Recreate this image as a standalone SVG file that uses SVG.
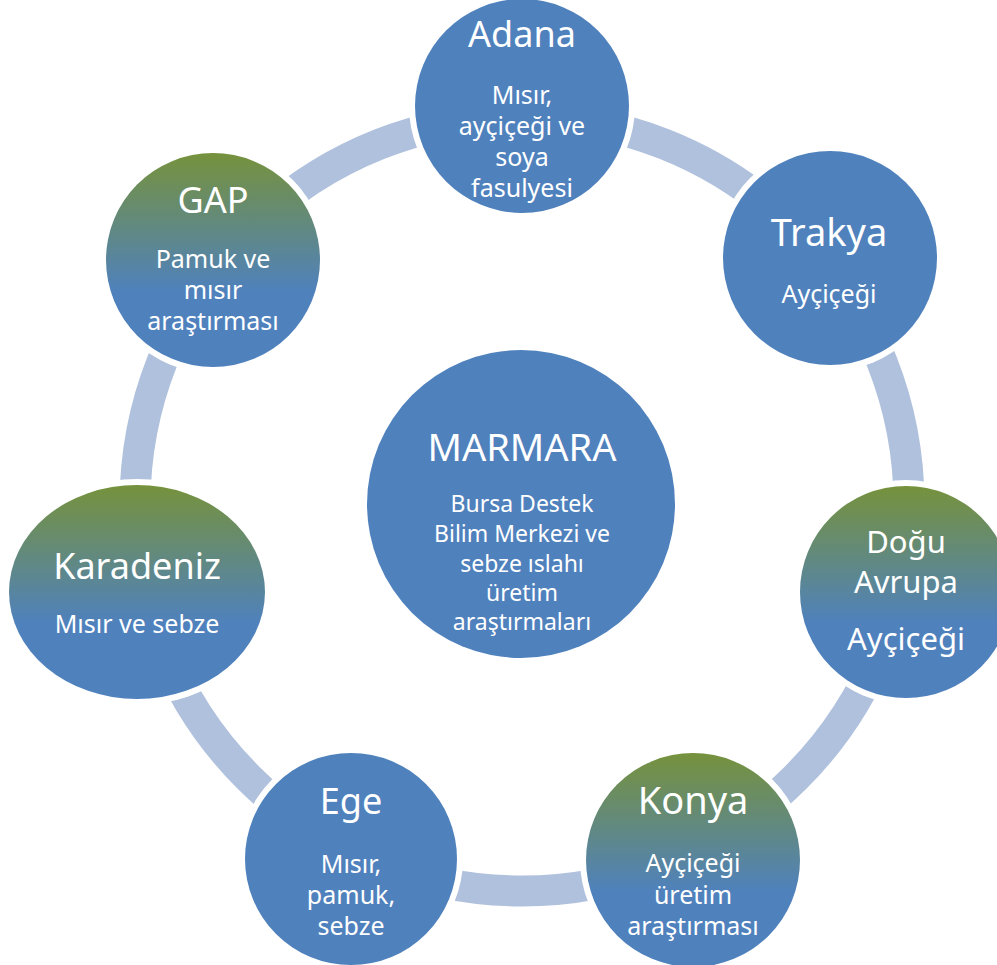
<svg xmlns="http://www.w3.org/2000/svg" width="997" height="965" viewBox="0 0 997 965">
<defs>
<linearGradient id="gg" x1="0" y1="0" x2="0" y2="1">
<stop offset="0" stop-color="#76923C"/>
<stop offset="0.65" stop-color="#4F81BD"/>
<stop offset="1" stop-color="#4F81BD"/>
</linearGradient>
<style>
.halo{fill:#FFFFFF}
.plain{fill:#4F81BD}
.grad{fill:url(#gg)}
text{font-family:"Noto Sans","Open Sans","Liberation Sans",sans-serif;fill:#FFFFFF;text-anchor:middle}
.t{font-size:36px}
.t2{font-size:38px}
.b{font-size:25px}
.m{font-size:23px}
.d{font-size:31px}
</style>
</defs>
<rect width="997" height="965" fill="#FFFFFF"/>
<g id="connectors">
<circle cx="522" cy="504" r="387" fill="none" stroke="#B0C1DE" stroke-width="31"/>
</g>
<g id="adana">
<circle class="halo" cx="522" cy="106" r="113"/>
<circle class="plain" cx="522" cy="106" r="107"/>
<text class="t" x="522" y="47">Adana</text>
<text class="b" x="522" y="104">Mısır,</text>
<text class="b" x="522" y="135">ayçiçeği ve</text>
<text class="b" x="522" y="166">soya</text>
<text class="b" x="522" y="197">fasulyesi</text>
</g>
<g id="trakya">
<circle class="halo" cx="830" cy="258" r="113"/>
<circle class="plain" cx="830" cy="258" r="107"/>
<text class="t2" x="829" y="246">Trakya</text>
<text class="b" x="829" y="303">Ayçiçeği</text>
</g>
<g id="dogu-avrupa">
<circle class="halo" cx="906" cy="592" r="112"/>
<circle class="grad" cx="906" cy="592" r="106"/>
<text class="d" x="906" y="553">Doğu</text>
<text class="d" x="906" y="593">Avrupa</text>
<text class="d" x="906" y="650">Ayçiçeği</text>
</g>
<g id="konya">
<circle class="halo" cx="693" cy="860" r="113"/>
<circle class="grad" cx="693" cy="860" r="107"/>
<text class="t2" x="693" y="814">Konya</text>
<text class="b" x="693" y="872">Ayçiçeği</text>
<text class="b" x="693" y="904">üretim</text>
<text class="b" x="693" y="935">araştırması</text>
</g>
<g id="ege">
<circle class="halo" cx="351" cy="859" r="112"/>
<circle class="plain" cx="351" cy="859" r="106"/>
<text class="t" x="351" y="814">Ege</text>
<text class="b" x="351" y="873">Mısır,</text>
<text class="b" x="351" y="904">pamuk,</text>
<text class="b" x="351" y="935">sebze</text>
</g>
<g id="karadeniz">
<ellipse class="halo" cx="137" cy="592" rx="134" ry="113"/>
<ellipse class="grad" cx="137" cy="592" rx="128" ry="107"/>
<text class="t" x="137" y="579">Karadeniz</text>
<text class="b" x="137" y="633">Mısır ve sebze</text>
</g>
<g id="gap">
<circle class="halo" cx="213" cy="260" r="113"/>
<circle class="grad" cx="213" cy="260" r="107"/>
<text class="t" x="213" y="213">GAP</text>
<text class="b" x="213" y="268">Pamuk ve</text>
<text class="b" x="213" y="299">mısır</text>
<text class="b" x="213" y="330">araştırması</text>
</g>
<g id="marmara">
<circle class="plain" cx="521" cy="504" r="154"/>
<text class="t2" x="522" y="461">MARMARA</text>
<text class="m" x="522" y="512">Bursa Destek</text>
<text class="m" x="522" y="542">Bilim Merkezi ve</text>
<text class="m" x="522" y="572">sebze ıslahı</text>
<text class="m" x="522" y="601">üretim</text>
<text class="m" x="522" y="630">araştırmaları</text>
</g>
</svg>
